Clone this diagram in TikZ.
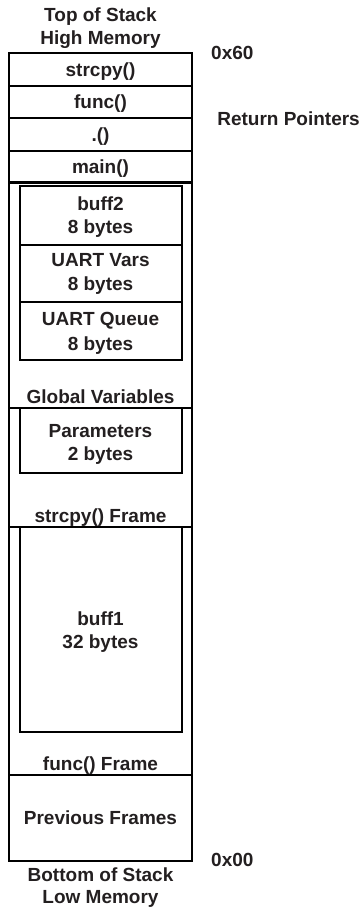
\documentclass[tikz,border=0pt]{standalone}
\usepackage{fontspec}
\setmainfont{Liberation Sans}
\definecolor{txt}{RGB}{35,31,32}
\begin{document}
\begin{tikzpicture}[x=1pt,y=-1pt,
  lbl/.style={anchor=base, font=\fontsize{19}{22}\selectfont\bfseries, text=txt, inner sep=0pt},
  frm/.style={draw=black, line width=2.2pt},
  sub/.style={draw=black, line width=2pt}]
\useasboundingbox (0,0) rectangle (361,911);
% outer stack
\draw[frm] (9,53) rectangle (192,861);
\draw[frm] (9,86) -- (192,86);
\draw[frm] (9,118) -- (192,118);
\draw[frm] (9,151) -- (192,151);
\draw[frm] (9,182.5) -- (192,182.5);
\draw[frm] (9,408) -- (192,408);
\draw[frm] (9,527) -- (192,527);
\draw[frm] (9,775) -- (192,775);
% inner boxes
\draw[sub] (20,186) rectangle (182,245);
\draw[sub] (20,245) rectangle (182,302);
\draw[sub] (20,302) rectangle (182,360);
\draw[sub] (20,408) rectangle (182,473);
\draw[sub] (20,527) rectangle (182,732);
% labels
\node[lbl] (top1) at (100.5,21.5) {Top of Stack};
\node[lbl] (top2) at (100.5,44.5) {High Memory};
\node[lbl, anchor=base west] (hi) at (211,59) {0x60};
\node[lbl] (r1) at (100.5,76.5) {strcpy()};
\node[lbl] (r2) at (100.5,108.5) {func()};
\node[lbl] (r3) at (100.5,141) {.()};
\node[lbl] (r4) at (100.5,173.5) {main()};
\node[lbl, anchor=base east] (rp) at (360,125) {Return Pointers};
\node[lbl] (b2a) at (100.5,210) {buff2};
\node[lbl] (b2b) at (100.5,233) {8 bytes};
\node[lbl] (uva) at (100.5,266) {UART Vars};
\node[lbl] (uvb) at (100.5,290) {8 bytes};
\node[lbl] (uqa) at (100.5,325) {UART Queue};
\node[lbl] (uqb) at (100.5,350) {8 bytes};
\node[lbl] (gv) at (100.5,403) {Global Variables};
\node[lbl] (pa) at (100.5,437) {Parameters};
\node[lbl] (pb) at (100.5,460) {2 bytes};
\node[lbl] (sf) at (100.5,522) {strcpy() Frame};
\node[lbl] (b1a) at (100.5,625) {buff1};
\node[lbl] (b1b) at (100.5,648) {32 bytes};
\node[lbl] (ff) at (100.5,770) {func() Frame};
\node[lbl] (pf) at (100.5,824) {Previous Frames};
\node[lbl, anchor=base west] (lo) at (211,866) {0x00};
\node[lbl] (bot1) at (100.5,881) {Bottom of Stack};
\node[lbl] (bot2) at (100.5,903.5) {Low Memory};
\end{tikzpicture}
\end{document}
